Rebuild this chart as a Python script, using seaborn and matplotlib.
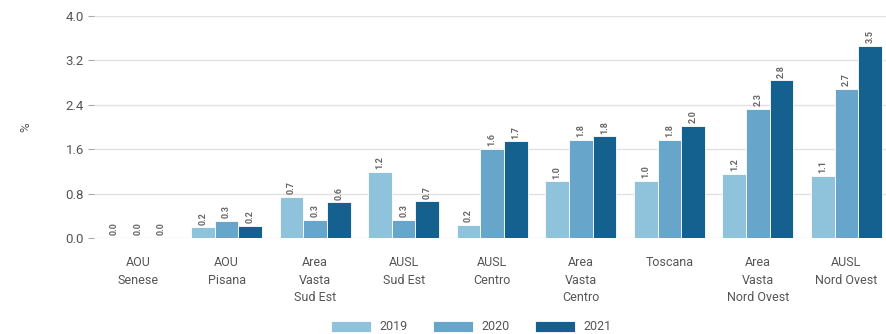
import matplotlib
matplotlib.use("Agg")
import matplotlib.pyplot as plt
import seaborn as sns
import pandas as pd

categories = ["AOU\nSenese", "AOU\nPisana", "Area\nVasta\nSud Est", "AUSL\nSud Est",
              "AUSL\nCentro", "Area\nVasta\nCentro", "Toscana", "Area\nVasta\nNord Ovest",
              "AUSL\nNord Ovest"]
years = ["2019", "2020", "2021"]
v2019 = [0.0, 0.19, 0.745, 1.19, 0.24, 1.02, 1.03, 1.16, 1.12]
v2020 = [0.0, 0.31, 0.325, 0.325, 1.61, 1.77, 1.77, 2.33, 2.69]
v2021 = [0.0, 0.22, 0.64, 0.66, 1.74, 1.83, 2.02, 2.84, 3.46]
yticks = [0.0, 0.8, 1.6, 2.4, 3.2, 4.0]
colors = ["#8fc3dc", "#67a5cb", "#14618f"]

rows = []
for y, vals in zip(years, [v2019, v2020, v2021]):
    for c, v in zip(categories, vals):
        rows.append({"cat": c, "year": y, "val": v})
df = pd.DataFrame(rows)

sns.set_theme(style="white")
plt.rcParams["font.family"] = ["Roboto", "DejaVu Sans"]

fig = plt.figure(figsize=(8.87, 3.34), dpi=100)
ax = fig.add_axes([93.7 / 887, 96 / 334, 797 / 887, 222 / 334])

sns.barplot(data=df, x="cat", y="val", hue="year", palette=colors, ax=ax,
            width=0.8, saturation=1, edgecolor="white", linewidth=0.6, legend=True)

for cont in ax.containers:
    ax.bar_label(cont, fmt="%.1f", rotation=90, padding=2, fontsize=6.5,
                 color="#666666", fontweight="bold")

ax.set_ylim(0, 4.0)
ax.set_yticks(yticks)
ax.set_yticklabels([f"{t:.1f}" for t in yticks])
ax.set_xlim(-0.5, len(categories) - 0.5)
ax.grid(axis="y", color="#e2e2e2", linewidth=1)
ax.set_axisbelow(True)
for s in ax.spines.values():
    s.set_visible(False)
ax.tick_params(axis="y", which="both", left=True, length=4, width=0.8, color="#aaaaaa",
               labelsize=9.5, labelcolor="#555555", pad=3)
ax.tick_params(axis="x", bottom=False, labelsize=9, labelcolor="#555555", pad=7)
for lab in ax.get_xticklabels():
    lab.set_linespacing(1.45)
    lab.set_va("top")
ax.set_xlabel("")
ax.set_ylabel("%", fontsize=9.5, color="#555555")
ax.yaxis.set_label_coords(-0.077, 0.5)

leg = ax.get_legend()
handles, labels = ax.get_legend_handles_labels()
leg.remove()
fig.legend(handles, labels, loc="center", bbox_to_anchor=(471 / 887, 1 - 327 / 334),
           ncol=3, frameon=False, fontsize=9, handlelength=3.2, handleheight=1.0,
           handletextpad=0.7, columnspacing=2.0, labelcolor="#555555")

fig.savefig("out.png", dpi=100)
